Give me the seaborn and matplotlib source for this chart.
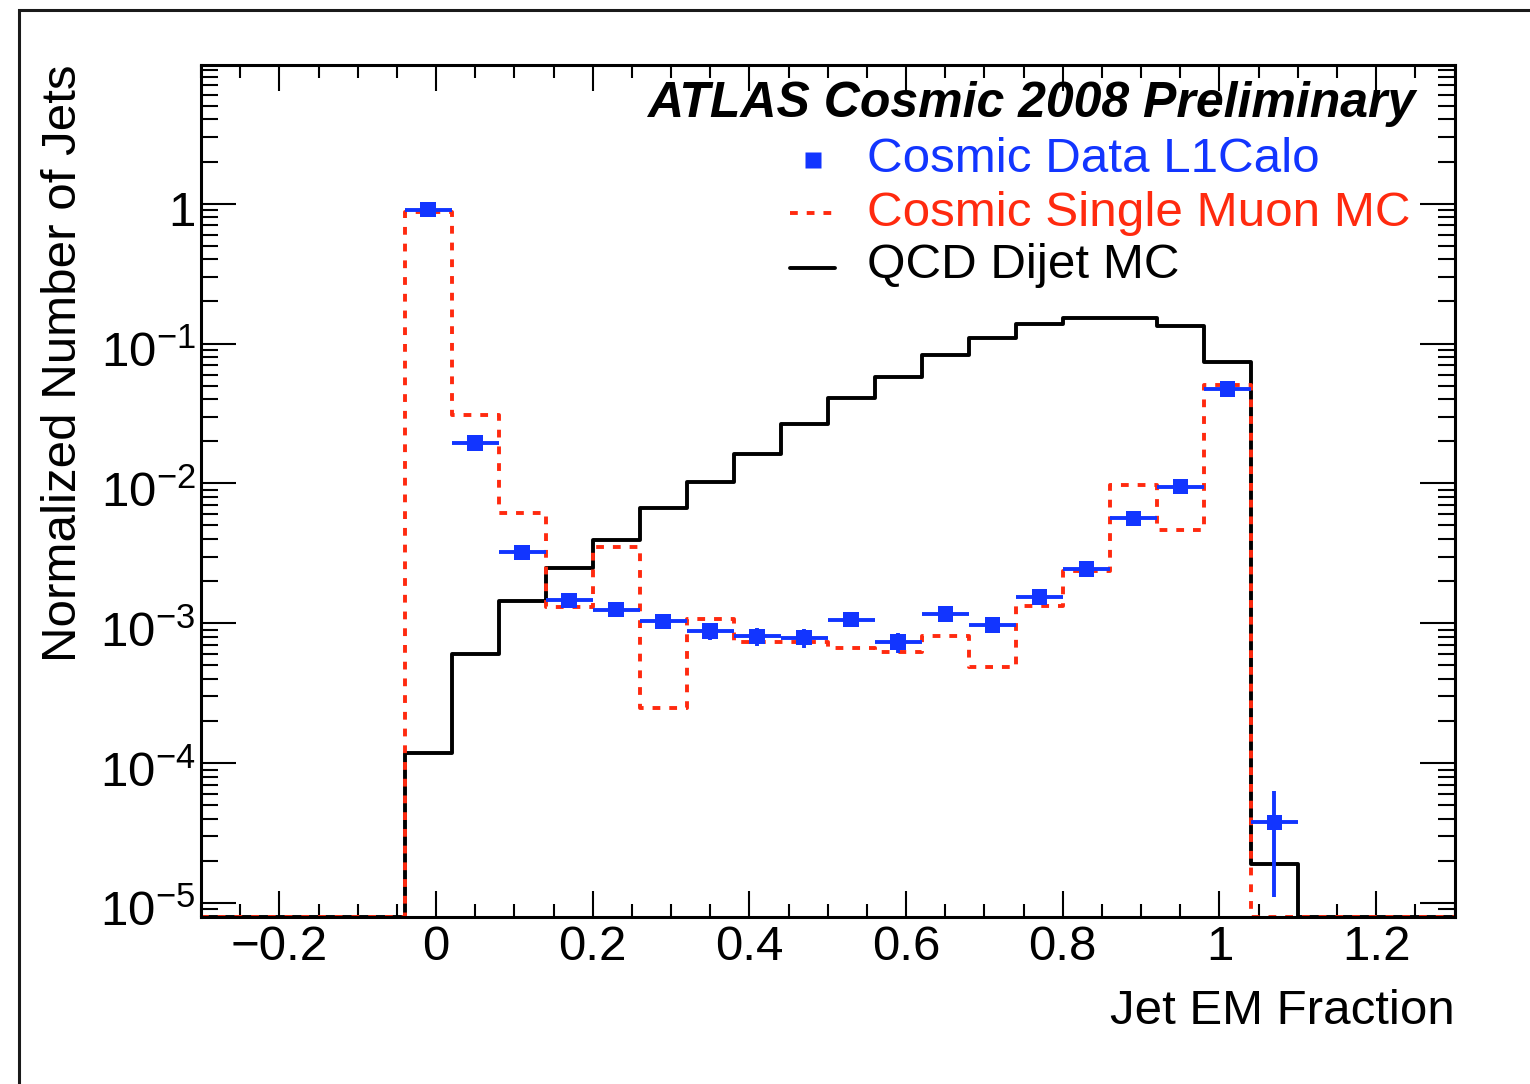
import numpy as np
import pandas as pd
import matplotlib
matplotlib.use("Agg")
import matplotlib.pyplot as plt
import matplotlib.transforms as mtransforms
import seaborn as sns
from matplotlib.ticker import FixedLocator, FuncFormatter, MultipleLocator, LogLocator, NullFormatter
from matplotlib.patches import Rectangle

# ---------------- data ----------------
bin_edges = [-0.04, 0.02, 0.08, 0.14, 0.20, 0.26, 0.32, 0.38, 0.44, 0.50,
             0.56, 0.62, 0.68, 0.74, 0.80, 0.86, 0.92, 0.98, 1.04, 1.10]
bin_centers = [-0.01, 0.05, 0.11, 0.17, 0.23, 0.29, 0.35, 0.41, 0.47, 0.53,
               0.59, 0.65, 0.71, 0.77, 0.83, 0.89, 0.95, 1.01, 1.07]

data_l1calo = [0.906, 0.0195, 0.00321, 0.00146, 0.00125, 0.00103, 0.000881, 0.000807,
               0.000790, 0.00106, 0.000732, 0.00116, 0.000972, 0.00154, 0.00244,
               0.00562, 0.00947, 0.0475, 3.77e-5]
data_err_low = [0.03, 0.0012, 0.0003, 0.00015, 0.00013, 0.00012, 0.00012, 0.00012,
                0.00012, 0.00012, 0.00012, 0.00012, 0.00012, 0.00015, 0.0002,
                0.0004, 0.0006, 0.0015, 2.66e-5]
data_err_high = [0.03, 0.0012, 0.0003, 0.00015, 0.00013, 0.00012, 0.00012, 0.00012,
                 0.00012, 0.00012, 0.00012, 0.00012, 0.00012, 0.00015, 0.0002,
                 0.0004, 0.0006, 0.0015, 2.57e-5]

cosmic_muon_mc = [0.877, 0.0308, 0.00611, 0.00131, 0.00353, 0.000247, 0.00107, 0.000732,
                  0.000732, 0.000667, 0.000621, 0.000817, 0.000488, 0.00132, 0.00235,
                  0.00973, 0.00464, 0.0509, 0.0]

qcd_dijet_mc = [0.000118, 0.000601, 0.00144, 0.00247, 0.00394, 0.00663, 0.0102, 0.0161,
                0.0264, 0.0405, 0.0581, 0.0834, 0.110, 0.137, 0.153, 0.153, 0.1345,
                0.0740, 1.89e-5]

x_range = (-0.3, 1.3)
y_range = (10 ** -5.1, 9.8)

x_ticks = [-0.2, 0.0, 0.2, 0.4, 0.6, 0.8, 1.0, 1.2]
y_ticks = [1e-5, 1e-4, 1e-3, 1e-2, 1e-1, 1.0]

legend_labels = ["Cosmic Data L1Calo", "Cosmic Single Muon MC", "QCD Dijet MC"]
title_text = "ATLAS Cosmic 2008 Preliminary"

BLUE = "#1235FF"
RED = "#FF2A0F"
BLACK = "#000000"

# ---------------- style ----------------
sns.set_theme(style="ticks")
plt.rcParams["font.family"] = ["Liberation Sans", "DejaVu Sans"]
plt.rcParams["mathtext.fontset"] = "custom"
plt.rcParams["mathtext.rm"] = "Liberation Sans"
plt.rcParams["mathtext.it"] = "Liberation Sans:italic"
plt.rcParams["mathtext.bf"] = "Liberation Sans:bold"
plt.rcParams["axes.unicode_minus"] = True

W, H = 1530, 1084
fig = plt.figure(figsize=(W / 100, H / 100), dpi=100)
fig.patch.set_facecolor("white")

# outer frame (canvas border)
fig.patches.append(Rectangle((19 / W, -0.2), 2.0, 1.2 - 10 / H,
                             transform=fig.transFigure, fill=False,
                             edgecolor="#1a1a1a", lw=2.2, zorder=0))

ax_l, ax_r, ax_t, ax_b = 201, 1454.5, 65, 917
ax = fig.add_axes([ax_l / W, 1 - ax_b / H, (ax_r - ax_l) / W, (ax_b - ax_t) / H])
ax.set_facecolor("white")


def step_frame(vals):
    ymin = y_range[0]
    xs = [x_range[0]] + list(bin_edges) + [x_range[1]]
    ys = [ymin] + [v if v > 0 else ymin for v in vals] + [ymin, ymin]
    return pd.DataFrame({"x": xs, "y": ys})


qcd_df = step_frame(qcd_dijet_mc)
mu_df = step_frame(cosmic_muon_mc)

sns.lineplot(data=qcd_df, x="x", y="y", drawstyle="steps-post", estimator=None,
             sort=False, color=BLACK, lw=2.8, ax=ax, zorder=2)
sns.lineplot(data=mu_df, x="x", y="y", drawstyle="steps-post", estimator=None,
             sort=False, color=RED, lw=2.8, linestyle=(0, (2.0, 2.3)), ax=ax, zorder=3)

half_w = [(bin_edges[i + 1] - bin_edges[i]) / 2 for i in range(len(bin_centers))]
ax.errorbar(bin_centers, data_l1calo, xerr=half_w, yerr=[data_err_low, data_err_high],
            fmt="none", ecolor=BLUE, elinewidth=2.8, capsize=0, zorder=4)
data_df = pd.DataFrame({"x": bin_centers, "y": data_l1calo})
sns.scatterplot(data=data_df, x="x", y="y", marker="s", s=125, color=BLUE,
                edgecolor="none", ax=ax, zorder=5)

ax.set_yscale("log")
ax.set_xlim(*x_range)
ax.set_ylim(*y_range)

# ticks
ax.xaxis.set_major_locator(FixedLocator(x_ticks))
ax.xaxis.set_minor_locator(MultipleLocator(0.05))
ax.xaxis.set_major_formatter(FuncFormatter(lambda v, p: ("%g" % round(v, 3)).replace("-", "\u2212")))
ax.yaxis.set_major_locator(FixedLocator(y_ticks))
ax.yaxis.set_minor_locator(LogLocator(base=10, subs=np.arange(2, 10), numticks=20))
ax.yaxis.set_minor_formatter(NullFormatter())


def yfmt(v, p):
    e = int(round(np.log10(v)))
    if e == 0:
        return "1"
    return r"$10^{%d}$" % e


ax.yaxis.set_major_formatter(FuncFormatter(yfmt))

ax.tick_params(which="both", direction="in", top=True, right=True, width=1.5,
               colors="black", labelcolor="black")
ax.tick_params(axis="x", which="major", length=19, labelsize=35.5, pad=6)
ax.tick_params(axis="x", which="minor", length=9.5)
ax.tick_params(axis="y", which="major", length=25, labelsize=35.5, pad=4)
ax.tick_params(axis="y", which="minor", length=12.5)
for s in ax.spines.values():
    s.set_linewidth(2.2)
    s.set_color("black")
    s.set_zorder(10)

# shift exponent-style y labels slightly down (ROOT centres the base digits on the tick)
shift = mtransforms.ScaledTranslation(0, -5 / 100, fig.dpi_scale_trans)
for lbl in ax.yaxis.get_majorticklabels():
    lbl.set_transform(lbl.get_transform() + shift)

ax.set_xlabel("Jet EM Fraction", fontsize=35.5, loc="right", color="black")
ax.xaxis.set_label_coords(1.0, -0.085)
ax.set_ylabel("Normalized Number of Jets", fontsize=35.5, loc="top", color="black")
ax.yaxis.set_label_coords(-0.092, 1.0)

# title / legend
ax.text(0.9685, 0.939, title_text, transform=ax.transAxes, ha="right", va="baseline",
        fontsize=36, fontweight="bold", fontstyle="italic", color="black", zorder=6)

text_x = 0.5313
rows = [0.8744, 0.8110, 0.7500]
cols = [BLUE, RED, BLACK]
for lab, yy, c in zip(legend_labels, rows, cols):
    ax.text(text_x, yy, lab, transform=ax.transAxes, ha="left", va="baseline",
            fontsize=35.6, color=c, zorder=6)

ax.plot([0.4882], [0.8885], transform=ax.transAxes, marker="s", ms=12,
        color=BLUE, mec="none", ls="none", zorder=6)
ax.plot([0.4699, 0.5034], [0.8263, 0.8263], transform=ax.transAxes, color=RED,
        lw=2.8, linestyle=(0, (2.0, 2.3)), zorder=6)
ax.plot([0.4699, 0.5058], [0.7617, 0.7617], transform=ax.transAxes, color=BLACK,
        lw=2.8, zorder=6)

fig.savefig("out.png", dpi=100, facecolor="white")
